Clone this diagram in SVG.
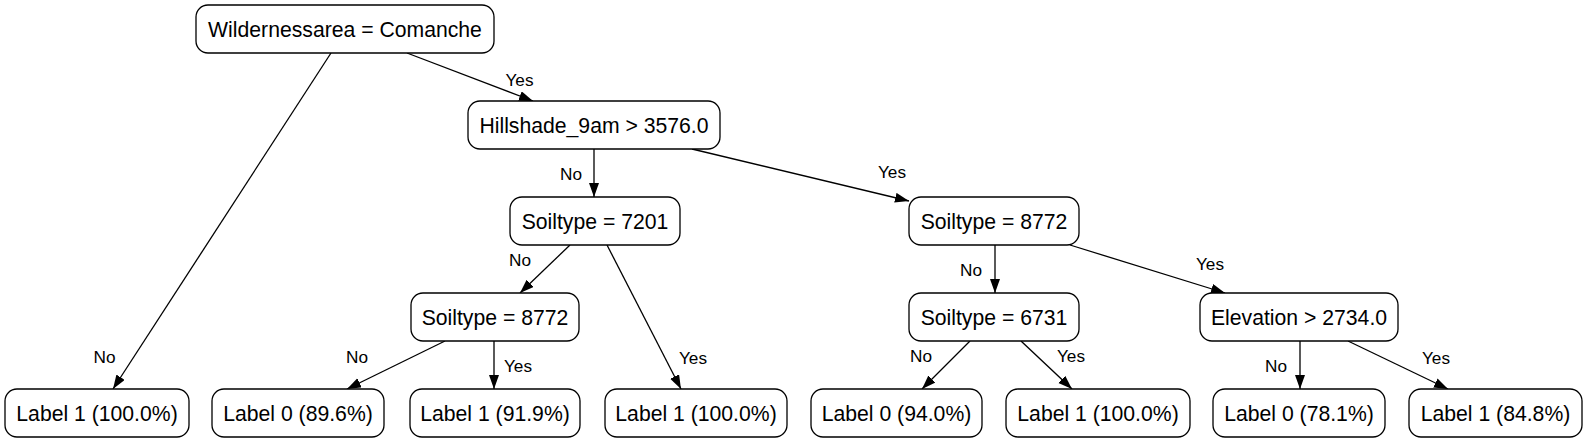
<svg xmlns="http://www.w3.org/2000/svg" width="1587" height="443" viewBox="0 0 1587 443">
<style>
.box{fill:#fff;stroke:#000;stroke-width:1.3}
.nt{font-family:"Liberation Sans",Arial,sans-serif;font-size:21.2px;text-anchor:middle;fill:#000}
.el{font-family:"Liberation Sans",Arial,sans-serif;font-size:17.2px;text-anchor:middle;fill:#000}
.edge{stroke:#000;stroke-width:1.3;fill:none;marker-end:url(#ah)}
</style>
<defs>
<marker id="ah" markerUnits="userSpaceOnUse" markerWidth="15" markerHeight="11" refX="14" refY="5" orient="auto">
<path d="M0,0 L14,5 L0,10 z" fill="#000"/>
</marker>
</defs>
<rect width="1587" height="443" fill="#fff"/>
<g id="connectors">
<line class="edge" x1="331" y1="53" x2="113" y2="389"/>
<line class="edge" x1="407" y1="53" x2="533" y2="101"/>
<line class="edge" x1="594" y1="149" x2="594" y2="197"/>
<line class="edge" x1="692" y1="149" x2="909" y2="201"/>
<line class="edge" x1="570" y1="245" x2="520" y2="293"/>
<line class="edge" x1="607" y1="245" x2="681" y2="389"/>
<line class="edge" x1="445" y1="341" x2="347" y2="389"/>
<line class="edge" x1="494" y1="341" x2="494" y2="389"/>
<line class="edge" x1="995" y1="245" x2="995" y2="293"/>
<line class="edge" x1="1070" y1="245" x2="1225" y2="293"/>
<line class="edge" x1="970" y1="341" x2="922" y2="389"/>
<line class="edge" x1="1021" y1="341" x2="1072" y2="389"/>
<line class="edge" x1="1300" y1="341" x2="1300" y2="389"/>
<line class="edge" x1="1348" y1="341" x2="1448" y2="389"/>
<text class="el" x="104.5" y="363">No</text>
<text class="el" x="519.5" y="86">Yes</text>
<text class="el" x="571" y="180">No</text>
<text class="el" x="892" y="178">Yes</text>
<text class="el" x="520" y="266">No</text>
<text class="el" x="693" y="364">Yes</text>
<text class="el" x="357" y="363">No</text>
<text class="el" x="518" y="372">Yes</text>
<text class="el" x="971" y="276">No</text>
<text class="el" x="1210" y="270">Yes</text>
<text class="el" x="921" y="362">No</text>
<text class="el" x="1071" y="362">Yes</text>
<text class="el" x="1276" y="372">No</text>
<text class="el" x="1436" y="364">Yes</text>
</g>
<g id="root"><rect class="box" x="196" y="5" width="298" height="48" rx="12"/><text class="nt" x="345" y="36.5">Wildernessarea = Comanche</text></g>
<g id="hillshade"><rect class="box" x="468" y="101" width="252" height="48" rx="12"/><text class="nt" x="594" y="132.5">Hillshade_9am &gt; 3576.0</text></g>
<g id="soil7201"><rect class="box" x="510" y="197" width="170" height="48" rx="12"/><text class="nt" x="595" y="228.5">Soiltype = 7201</text></g>
<g id="soil8772r"><rect class="box" x="909" y="197" width="170" height="48" rx="12"/><text class="nt" x="994" y="228.5">Soiltype = 8772</text></g>
<g id="soil8772l"><rect class="box" x="411" y="293" width="168" height="48" rx="12"/><text class="nt" x="495" y="324.5">Soiltype = 8772</text></g>
<g id="soil6731"><rect class="box" x="909" y="293" width="170" height="48" rx="12"/><text class="nt" x="994" y="324.5">Soiltype = 6731</text></g>
<g id="elevation"><rect class="box" x="1200" y="293" width="198" height="48" rx="12"/><text class="nt" x="1299" y="324.5">Elevation &gt; 2734.0</text></g>
<g id="leaf1"><rect class="box" x="5" y="389" width="184" height="48" rx="12"/><text class="nt" x="97" y="420.5">Label 1 (100.0%)</text></g>
<g id="leaf2"><rect class="box" x="212" y="389" width="172" height="48" rx="12"/><text class="nt" x="298" y="420.5">Label 0 (89.6%)</text></g>
<g id="leaf3"><rect class="box" x="410" y="389" width="170" height="48" rx="12"/><text class="nt" x="495" y="420.5">Label 1 (91.9%)</text></g>
<g id="leaf4"><rect class="box" x="605" y="389" width="182" height="48" rx="12"/><text class="nt" x="696" y="420.5">Label 1 (100.0%)</text></g>
<g id="leaf5"><rect class="box" x="811" y="389" width="171" height="48" rx="12"/><text class="nt" x="896.5" y="420.5">Label 0 (94.0%)</text></g>
<g id="leaf6"><rect class="box" x="1006" y="389" width="184" height="48" rx="12"/><text class="nt" x="1098" y="420.5">Label 1 (100.0%)</text></g>
<g id="leaf7"><rect class="box" x="1213" y="389" width="172" height="48" rx="12"/><text class="nt" x="1299" y="420.5">Label 0 (78.1%)</text></g>
<g id="leaf8"><rect class="box" x="1409" y="389" width="173" height="48" rx="12"/><text class="nt" x="1495.5" y="420.5">Label 1 (84.8%)</text></g>
</svg>
